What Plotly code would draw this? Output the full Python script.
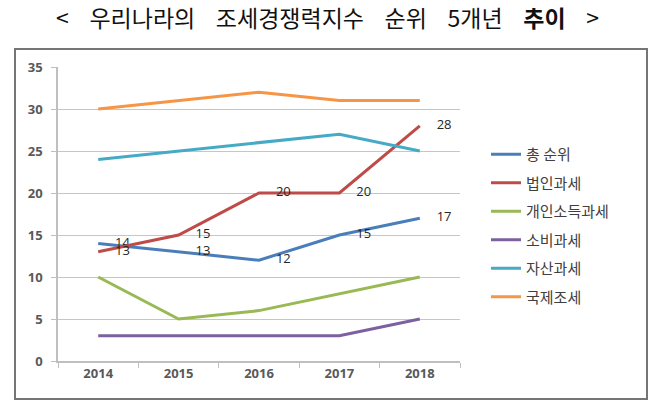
import plotly.graph_objects as go

years = ["2014", "2015", "2016", "2017", "2018"]
series_names = ["총 순위", "법인과세", "개인소득과세", "소비과세", "자산과세", "국제조세"]
total_rank = [14, 13, 12, 15, 17]
corporate_tax = [13, 15, 20, 20, 28]
personal_income_tax = [10, 5, 6, 8, 10]
consumption_tax = [3, 3, 3, 3, 5]
property_tax = [24, 25, 26, 27, 25]
international_tax = [30, 31, 32, 31, 31]

series_values = [total_rank, corporate_tax, personal_income_tax,
                 consumption_tax, property_tax, international_tax]
colors = ["#4A7EBB", "#BE4B48", "#98B954", "#7D60A0", "#46AAC5", "#F69546"]
labelled = [True, True, False, False, False, False]

W, H = 658, 409
L, R, T, B = 58, 460, 67, 361  # plot area pixels

fig = go.Figure()
for name, vals, col, lab in zip(series_names, series_values, colors, labelled):
    fig.add_trace(go.Scatter(
        x=years, y=vals, name=name, legendgroup=name,
        mode="lines+text" if lab else "lines",
        line=dict(color=col, width=3),
        text=["     " + str(v) for v in vals] if lab else None,
        textposition="middle right",
        textfont=dict(family="Open Sans", size=13, color="#262626"),
        cliponaxis=False,
    ))

def px_x(p):
    return (p - L) / (R - L)

def px_y(p):
    return (B - p) / (B - T)

sp = "&nbsp;&nbsp;&nbsp;&nbsp;"
title_text = ("&lt;" + sp + "우리나라의" + sp + "조세경쟁력지수" + sp + "순위" + sp
              + "5개년" + sp + "<b>추이</b>" + sp + "&gt;")

fig.update_layout(
    width=W, height=H,
    margin=dict(l=L, r=W - R, t=T, b=H - B),
    paper_bgcolor="white", plot_bgcolor="white",
    title=dict(
        text=title_text,
        x=327.5 / W, y=1 - 19 / H, xanchor="center", yanchor="middle",
        font=dict(family="Noto Sans CJK KR", size=23, color="#111111"),
    ),
    showlegend=True,
    legend=dict(
        x=px_x(486), y=px_y(138), xanchor="left", yanchor="top",
        font=dict(family="Noto Sans CJK KR", size=15, color="#404040"),
        traceorder="grouped", tracegroupgap=6,
        bgcolor="rgba(0,0,0,0)",
    ),
    xaxis=dict(
        type="category", range=[-0.5, 4.5], tickson="boundaries",
        ticks="outside", ticklen=5, tickcolor="#BFBFBF",
        showline=True, linecolor="#BFBFBF", linewidth=1.5,
        showgrid=False,
        tickfont=dict(family="Open Sans", size=13, color="#595959", weight="bold"),
    ),
    yaxis=dict(
        range=[0, 35], dtick=5, tick0=0,
        ticks="outside", ticklen=5, tickcolor="#BFBFBF",
        showline=True, linecolor="#BFBFBF", linewidth=1.5,
        showgrid=True, gridcolor="#C6C6C6", gridwidth=1.3,
        zeroline=False, ticklabelstandoff=6,
        tickfont=dict(family="Open Sans", size=13, color="#595959", weight="bold"),
    ),
    shapes=[dict(
        type="rect", xref="paper", yref="paper",
        x0=px_x(15), x1=px_x(647), y0=px_y(399), y1=px_y(49),
        line=dict(color="#757575", width=2), layer="below",
    )],
)

fig.write_html("out.html")
